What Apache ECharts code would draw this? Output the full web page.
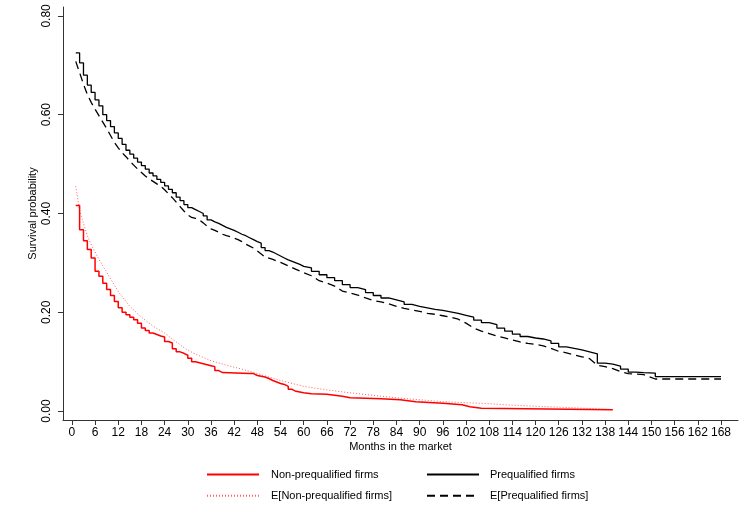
<!DOCTYPE html>
<html>
<head>
<meta charset="utf-8">
<script src="https://cdn.jsdelivr.net/npm/echarts@6/dist/echarts.min.js"></script>
<style>html,body{margin:0;padding:0;background:#fff}#c{width:745px;height:531px}</style>
</head>
<body>
<div id="c"></div>
<script>
// ---- data ----
var xTicks = [0,6,12,18,24,30,36,42,48,54,60,66,72,78,84,90,96,102,108,114,120,126,132,138,144,150,156,162,168];
var yTicks = [0,0.2,0.4,0.6,0.8];

var preqMonths = [1,2,3,4,5,6,7,8,9,10,11,12,13,14,15,16,17,18,19,20,21,22,23,24,25,26,27,28,29,30,31,32,33,34,35,36,37,38,39,40,41,42,43,44,45,46,47,48,49,50,51,52,53,54,55,56,57,58,59,60,62,64,66,68,70,72,74,76,78,80,82,84,86,88,90,92,94,96,98,100,102,104,106,108,110,112,114,116,118,120,122,124,126,128,130,132,134,136,138,140,142,144,146,148,151,168];
var preqSurv = [0.725,0.705,0.68,0.66,0.645,0.63,0.618,0.60,0.588,0.576,0.563,0.552,0.540,0.528,0.520,0.512,0.504,0.497,0.490,0.482,0.476,0.469,0.463,0.456,0.449,0.442,0.433,0.426,0.418,0.412,0.408,0.404,0.400,0.395,0.387,0.383,0.380,0.376,0.372,0.369,0.366,0.362,0.358,0.355,0.351,0.347,0.343,0.340,0.331,0.325,0.322,0.318,0.314,0.310,0.306,0.303,0.300,0.297,0.293,0.290,0.283,0.276,0.270,0.264,0.256,0.250,0.246,0.240,0.234,0.229,0.225,0.221,0.216,0.212,0.209,0.206,0.204,0.201,0.198,0.194,0.190,0.184,0.179,0.175,0.168,0.162,0.156,0.151,0.148,0.146,0.142,0.137,0.130,0.127,0.124,0.120,0.116,0.097,0.095,0.091,0.085,0.079,0.078,0.077,0.070,0.070];

var ePreqMonths = [1,2,3,4,5,6,7,8,9,10,11,12,13,14,15,16,17,18,19,20,21,22,23,24,25,26,27,28,29,30,31,32,33,34,35,36,37,38,39,40,41,42,43,44,45,46,47,48,49,50,52,54,56,58,60,62,64,66,68,70,72,74,76,78,80,82,84,86,88,90,92,94,96,98,100,102,104,106,108,110,112,114,116,118,120,122,124,126,128,130,132,134,136,138,140,142,144,146,148,151,168];
var ePreqSurv = [0.708,0.685,0.662,0.641,0.625,0.611,0.598,0.585,0.572,0.558,0.544,0.533,0.523,0.515,0.506,0.498,0.490,0.483,0.476,0.470,0.465,0.460,0.455,0.448,0.440,0.432,0.423,0.414,0.405,0.397,0.392,0.390,0.387,0.381,0.374,0.369,0.366,0.362,0.358,0.355,0.353,0.350,0.347,0.343,0.338,0.334,0.330,0.324,0.318,0.312,0.307,0.301,0.294,0.287,0.280,0.274,0.264,0.259,0.253,0.243,0.239,0.235,0.229,0.224,0.221,0.217,0.212,0.208,0.205,0.202,0.198,0.196,0.193,0.190,0.186,0.178,0.168,0.162,0.157,0.152,0.148,0.144,0.140,0.137,0.135,0.132,0.127,0.121,0.118,0.114,0.110,0.106,0.093,0.090,0.086,0.080,0.076,0.075,0.074,0.065,0.065];

var nonMonths = [1,2,3,4,5,6,7,8,9,10,11,12,13,14,15,16,17,18,19,20,21,22,23,24,25,26,27,28,29,30,31,32,33,34,35,36,37,38,39,46,47,48,50,51,52,53,54,55,56,57,58,60,62,66,68,70,72,80,85,89,96,101,103,106,140];
var nonSurv = [0.416,0.367,0.345,0.327,0.31,0.283,0.273,0.259,0.246,0.234,0.222,0.209,0.200,0.195,0.190,0.185,0.178,0.168,0.163,0.158,0.155,0.152,0.150,0.141,0.138,0.126,0.120,0.117,0.113,0.107,0.100,0.098,0.096,0.094,0.092,0.090,0.082,0.078,0.076,0.076,0.072,0.069,0.066,0.062,0.059,0.056,0.054,0.050,0.044,0.040,0.037,0.035,0.034,0.032,0.030,0.027,0.025,0.023,0.019,0.016,0.013,0.009,0.006,0.003,0.003];

var eNonMonths = [1,2,3,4,5,6,7,8,10,12,15,18,21,24,27,30,33,36,40,44,48,54,60,66,72,78,84,90,96,102,108,114,120,126,132,140];
var eNonSurv = [0.455,0.405,0.38,0.355,0.337,0.322,0.307,0.294,0.268,0.242,0.212,0.19,0.172,0.158,0.14,0.123,0.112,0.102,0.093,0.085,0.076,0.062,0.05,0.043,0.037,0.032,0.027,0.023,0.019,0.017,0.015,0.012,0.01,0.008,0.006,0.003];

function pairs(xs, ys){ return xs.map(function(x,i){ return [x, ys[i]]; }); }

var FONT = 'Liberation Sans, Arial, sans-serif';
var chart = echarts.init(document.getElementById('c'), null, {renderer:'canvas'});
var legendCommon = {orient:'vertical', itemWidth:52, itemHeight:14, itemGap:10, padding:0,
  itemStyle:{opacity:0, borderWidth:0}};
chart.setOption({
  animation:false,
  backgroundColor:'#fff',
  grid:{left:63, right:7, top:7, bottom:111, containLabel:false},
  xAxis:{
    type:'value', min:-2.3, max:172.4,
    name:'Months in the market', nameLocation:'middle', nameGap:21, nameMoveOverlap:false,
    nameTextStyle:{fontFamily:FONT, fontSize:11, color:'#000'},
    axisLine:{show:true, onZero:false, lineStyle:{color:'#333', width:1}},
    axisTick:{show:true, length:5, customValues:xTicks, lineStyle:{color:'#333'}},
    axisLabel:{customValues:xTicks, fontFamily:FONT, fontSize:12, color:'#000', margin:7},
    splitLine:{show:false}
  },
  yAxis:{
    type:'value', min:-0.018, max:0.818,
    name:'Survival probability', nameLocation:'middle', nameGap:25, nameRotate:90, nameMoveOverlap:false,
    nameTextStyle:{fontFamily:FONT, fontSize:11, color:'#000'},
    axisLine:{show:true, onZero:false, lineStyle:{color:'#333', width:1}},
    axisTick:{show:true, length:5, customValues:yTicks, lineStyle:{color:'#333'}},
    axisLabel:{customValues:yTicks, rotate:90, fontFamily:FONT, fontSize:12, color:'#000', margin:10,
      formatter:function(v){ return v.toFixed(2); }},
    splitLine:{show:false}
  },
  legend:[
    Object.assign({left:206, top:469,
     textStyle:{fontFamily:FONT, fontSize:11, color:'#000', padding:[0,0,0,7]},
     data:['Non-prequalified firms','E[Non-prequalified firms]']}, legendCommon),
    Object.assign({left:426, top:469,
     textStyle:{fontFamily:FONT, fontSize:11, color:'#000', padding:[0,0,0,6]},
     data:['Prequalified firms','E[Prequalified firms]']}, legendCommon)
  ],
  series:[
    {name:'Non-prequalified firms', type:'line', step:'end', symbol:'none', data:pairs(nonMonths, nonSurv),
     lineStyle:{color:'#ff0000', width:1.5}, itemStyle:{color:'#ff0000'}, z:3},
    {name:'E[Non-prequalified firms]', type:'line', symbol:'none', data:pairs(eNonMonths, eNonSurv),
     lineStyle:{color:'#ff6060', width:1, type:[1,2]}, itemStyle:{color:'#ff6060'}, z:2},
    {name:'Prequalified firms', type:'line', step:'end', symbol:'none', data:pairs(preqMonths, preqSurv),
     lineStyle:{color:'#000', width:1.3}, itemStyle:{color:'#000'}, z:3},
    {name:'E[Prequalified firms]', type:'line', symbol:'none', data:pairs(ePreqMonths, ePreqSurv),
     lineStyle:{color:'#000', width:1.3, type:[8,5]}, itemStyle:{color:'#000'}, z:2}
  ]
});
</script>
</body>
</html>
